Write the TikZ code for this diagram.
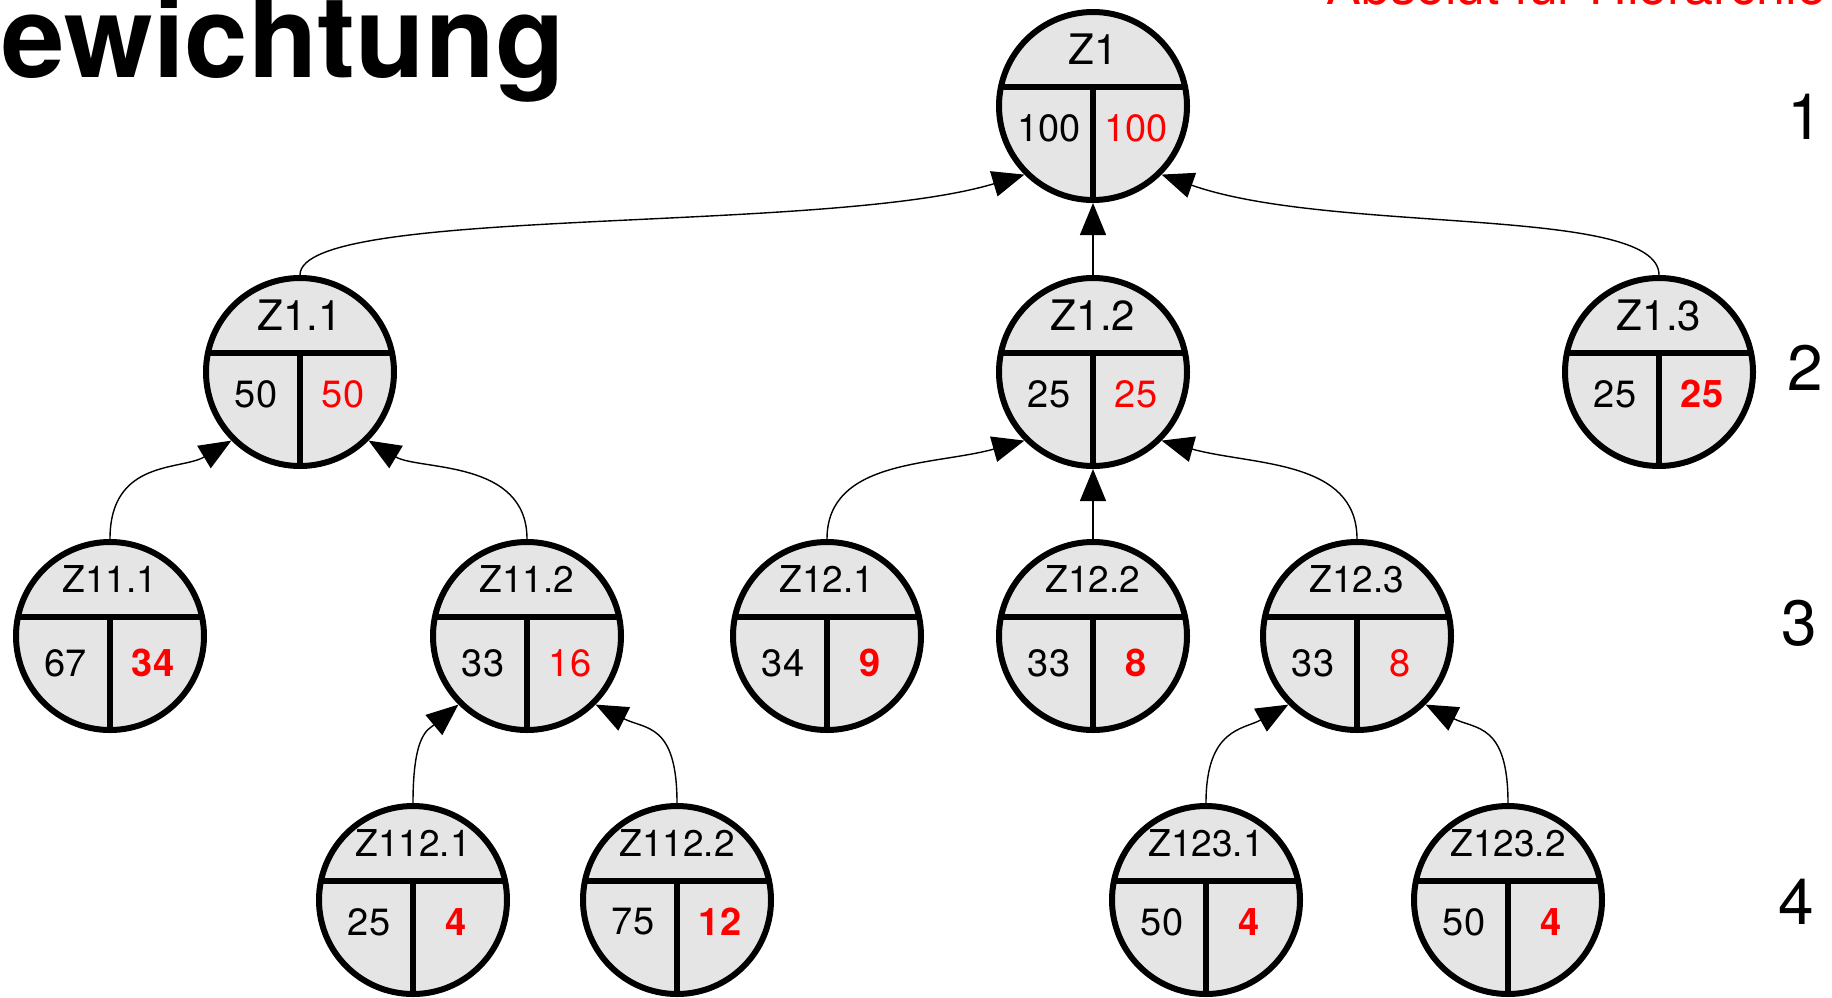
\documentclass[tikz,border=0pt]{standalone}
\usepackage{fontspec}
\setmainfont{TeX Gyre Heros}
\usetikzlibrary{arrows.meta}

\definecolor{kreisgrau}{RGB}{229,229,229}

\tikzset{
  zkreis/.style={circle, draw=black, fill=kreisgrau, line width=3pt, minimum size=94pt, inner sep=0pt},
  trenner/.style={line width=3pt},
  zname/.style={font=\fontsize{21}{21}\selectfont},
  zwert/.style={font=\fontsize{19}{19}\selectfont, yshift=1pt},
  zabs/.style={zwert, text=red},
  unten/.style={zname/.append style={font=\fontsize{18.5}{18.5}\selectfont}},
  tiefer/.style={zwert/.append style={yshift=-2.5pt}},
  ebene/.style={font=\fontsize{32}{32}\selectfont},
  verbinder/.style={-{Triangle[length=16pt,width=13pt]}, line width=0.7pt},
}

% Kreis mit Name oben, links relativ, rechts absolut
\newcommand{\zielknoten}[6][]{%
  \begin{scope}[#1]
  \node[zkreis] (#2) at (#3) {};
  \draw[trenner] (#2.center) ++(-92,-19) -- ++(184,0);
  \draw[trenner] (#2.center) ++(0,-19) -- ++(0,113);
  \path (#2.center) ++(0,-57) node[zname] {#4};
  \path (#2.center) ++(-44,24) node[zwert] {#5};
  \path (#2.center) ++(43,24) node[zabs] {#6};
  \end{scope}
}

\begin{document}
\begin{tikzpicture}[x=0.5pt, y=-0.5pt]
    \useasboundingbox (0,0) rectangle (1832,997);
    \clip (0,0) rectangle (1832,997);

    \node[anchor=base east, inner sep=0pt, font=\fontsize{57}{57}\selectfont\bfseries] (titel) at (565,77) {Gewichtung};
    \node[anchor=base west, inner sep=0pt, text=red, font=\fontsize{26}{26}\selectfont] (kopf) at (1326,4) {Absolut für Hierarchie};

    % Ebene 1 und 2
    \zielknoten{z1}{1093,106}{Z1}{100}{100}
    \zielknoten{z11}{300,372}{Z1.1}{50}{50}
    \zielknoten{z12}{1093,372}{Z1.2}{25}{25}
    \zielknoten{z13}{1659,372}{Z1.3}{25}{\textbf{25}}
    % Ebene 3
    \zielknoten[unten,tiefer]{z111}{110,636}{Z11.1}{67}{\textbf{34}}
    \zielknoten[unten,tiefer]{z112}{527,636}{Z11.2}{33}{16}
    \zielknoten[unten,tiefer]{z121}{827,636}{Z12.1}{34}{\textbf{9}}
    \zielknoten[unten,tiefer]{z122}{1093,636}{Z12.2}{33}{\textbf{8}}
    \zielknoten[unten,tiefer]{z123}{1357,636}{Z12.3}{33}{8}
    % Ebene 4
    \zielknoten[unten]{z1121}{413,900}{Z112.1}{25}{\textbf{4}}
    \zielknoten[unten]{z1122}{677,900}{Z112.2}{75}{\textbf{12}}
    \zielknoten[unten]{z1231}{1206,900}{Z123.1}{50}{\textbf{4}}
    \zielknoten[unten]{z1232}{1508,900}{Z123.2}{50}{\textbf{4}}

    \node[ebene] (e1) at (1805,117) {1};
    \node[ebene] (e2) at (1805,368) {2};
    \node[ebene] (e3) at (1799,623) {3};
    \node[ebene] (e4) at (1796,902) {4};

    \draw[verbinder] (z11.north) .. controls +(0,-70) and +(-200,60) .. (z1.south west);
    \draw[verbinder] (z12.north) -- (z1.south);
    \draw[verbinder] (z13.north) .. controls +(0,-70) and +(170,60) .. (z1.south east);
    \draw[verbinder] (z111.north) .. controls +(0,-80) and +(-50,30) .. (z11.south west);
    \draw[verbinder] (z112.north) .. controls +(0,-80) and +(50,30) .. (z11.south east);
    \draw[verbinder] (z121.north) .. controls +(0,-80) and +(-90,25) .. (z12.south west);
    \draw[verbinder] (z122.north) -- (z12.south);
    \draw[verbinder] (z123.north) .. controls +(0,-80) and +(90,25) .. (z12.south east);
    \draw[verbinder] (z1121.north) .. controls +(0,-70) and +(-30,25) .. (z112.south west);
    \draw[verbinder] (z1122.north) .. controls +(0,-80) and +(50,25) .. (z112.south east);
    \draw[verbinder] (z1231.north) .. controls +(0,-75) and +(-45,25) .. (z123.south west);
    \draw[verbinder] (z1232.north) .. controls +(0,-80) and +(50,25) .. (z123.south east);
\end{tikzpicture}
\end{document}
